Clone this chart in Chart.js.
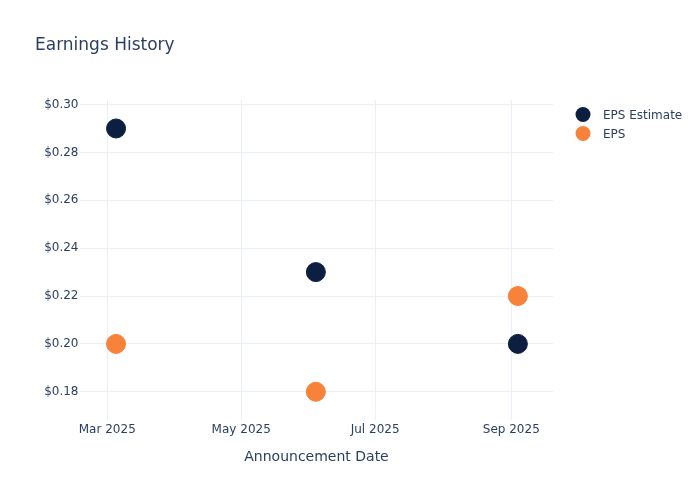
<!DOCTYPE html>
<html>
<head>
<meta charset="utf-8">
<script src="https://cdn.jsdelivr.net/npm/chart.js@4/dist/chart.umd.min.js"></script>
<style>
  html, body { margin: 0; padding: 0; background: #fff; }
  #wrap { width: 700px; height: 500px; position: relative; }
</style>
</head>
<body>
<div id="wrap"><canvas id="c" width="700" height="500"></canvas></div>
<script>
const announcementDates = ['2025-03-05', '2025-06-04', '2025-09-04'];
const epsEstimate = [0.29, 0.23, 0.20];
const epsActual = [0.20, 0.18, 0.22];
const xTickDates = ['2025-03-01', '2025-05-01', '2025-07-01', '2025-09-01'];
const xTickLabels = ['Mar 2025', 'May 2025', 'Jul 2025', 'Sep 2025'];
const yTickValues = [0.18, 0.20, 0.22, 0.24, 0.26, 0.28, 0.30];
const xRange = ['2025-02-16T14:00:00Z', '2025-09-20T00:00:00Z'];
const yRange = [0.1682, 0.3019];
const seriesNames = ['EPS Estimate', 'EPS'];
const seriesColors = ['#0c1f41', '#f7823a'];
const chartTitle = 'Earnings History';
const xAxisTitle = 'Announcement Date';

const ts = d => Date.parse(d.length === 10 ? d + 'T00:00:00Z' : d);
const FONT = '"DejaVu Sans", Verdana, sans-serif';
const TXT = '#2a3f5f';
const GRID = '#ebf0f8';

const mk = (vals) => announcementDates.map((d, i) => ({ x: ts(d), y: vals[i] }));

const overlay = {
  id: 'overlay',
  afterDraw(chart) {
    const ctx = chart.ctx;
    ctx.save();
    ctx.fillStyle = TXT;
    ctx.font = '17px ' + FONT;
    ctx.textBaseline = 'middle';
    ctx.textAlign = 'left';
    ctx.fillText(chartTitle, 35, 45.5);
    ctx.font = '12px ' + FONT;
    seriesNames.forEach((n, i) => {
      const y = 114.5 + i * 19;
      ctx.beginPath();
      ctx.arc(583, y, 7.5, 0, Math.PI * 2);
      ctx.fillStyle = seriesColors[i];
      ctx.fill();
      ctx.fillStyle = TXT;
      ctx.fillText(n, 603, y + 1);
    });
    ctx.restore();
  }
};

new Chart(document.getElementById('c'), {
  type: 'scatter',
  data: {
    datasets: [
      { label: seriesNames[0], data: mk(epsEstimate), backgroundColor: seriesColors[0], borderColor: seriesColors[0], pointRadius: 9.5, pointHoverRadius: 9.5, borderWidth: 1 },
      { label: seriesNames[1], data: mk(epsActual), backgroundColor: seriesColors[1], borderColor: seriesColors[1], pointRadius: 9.5, pointHoverRadius: 9.5, borderWidth: 1 }
    ]
  },
  options: {
    responsive: false,
    animation: false,
    devicePixelRatio: 1,
    layout: { padding: { top: 100, right: 147, left: 0, bottom: 0 } },
    plugins: { legend: { display: false }, title: { display: false }, tooltip: { enabled: false } },
    scales: {
      x: {
        type: 'linear',
        min: ts(xRange[0]),
        max: ts(xRange[1]),
        afterBuildTicks: s => { s.ticks = xTickDates.map(d => ({ value: ts(d) })); },
        afterFit: s => { s.height = 80; },
        grid: { color: GRID, drawTicks: false, lineWidth: 1 },
        border: { display: false },
        ticks: {
          padding: 3,
          maxRotation: 0,
          autoSkip: false,
          color: TXT,
          font: { family: FONT, size: 12 },
          callback: (v) => { const i = xTickDates.findIndex(d => ts(d) === v); return i >= 0 ? xTickLabels[i] : ''; }
        },
        title: { display: true, text: xAxisTitle, color: TXT, font: { family: FONT, size: 14 }, padding: { top: 0, bottom: 34.6 } }
      },
      y: {
        type: 'linear',
        min: yRange[0],
        max: yRange[1],
        afterBuildTicks: s => { s.ticks = yTickValues.map(v => ({ value: v })); },
        afterFit: s => { s.width = 80; },
        grid: { color: GRID, drawTicks: false, lineWidth: 1 },
        border: { display: false },
        ticks: {
          padding: 1.5,
          color: TXT,
          font: { family: FONT, size: 12 },
          callback: v => '$' + Number(v).toFixed(2)
        }
      }
    }
  },
  plugins: [overlay]
});
</script>
</body>
</html>
